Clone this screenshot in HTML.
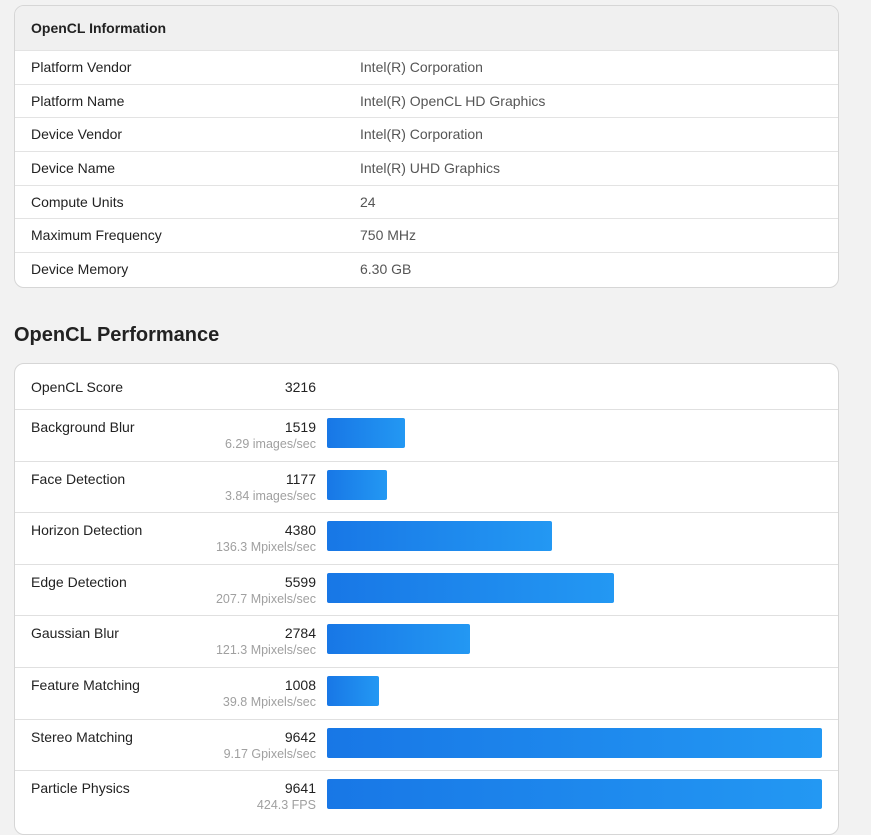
<!DOCTYPE html>
<html><head><meta charset="utf-8"><style>
body{margin:0;background:#f2f2f2;font-family:"Liberation Sans",sans-serif;width:871px;height:820px;overflow:hidden;position:relative;color:#222}
.card{position:absolute;left:14px;width:823px;background:#fff;border:1px solid #d6d6d6;border-radius:10px;overflow:hidden}
.hdr{height:44px;background:#f0f0f0;font-weight:bold;font-size:14px;line-height:44px;padding-left:16px}
.irow{height:33.7px;border-top:1px solid #e3e3e3;box-sizing:border-box;font-size:14px;line-height:32px;position:relative}
.irow .l{position:absolute;left:16px}.irow .v{position:absolute;left:345px;color:#555}
h2{position:absolute;left:14px;top:324px;margin:0;font-size:20px;font-weight:bold;color:#222}
.prow{position:absolute;left:0;width:823px;border-top:1px solid #e0e0e0;box-sizing:border-box}
.nm{position:absolute;left:16px;font-size:14px}
.sc{position:absolute;right:522px;font-size:14px;text-align:right}
.un{position:absolute;right:522px;font-size:12.5px;color:#a0a0a0;white-space:nowrap}
.bar{position:absolute;left:312px;height:30px;border-radius:2px;background:linear-gradient(90deg,#1877e6,#2398f3)}
</style></head><body>
<div class="card" style="top:5px;height:281px">
<div class="hdr">OpenCL Information</div>
<div class="irow"><span class="l">Platform Vendor</span><span class="v">Intel(R) Corporation</span></div>
<div class="irow"><span class="l">Platform Name</span><span class="v">Intel(R) OpenCL HD Graphics</span></div>
<div class="irow"><span class="l">Device Vendor</span><span class="v">Intel(R) Corporation</span></div>
<div class="irow"><span class="l">Device Name</span><span class="v">Intel(R) UHD Graphics</span></div>
<div class="irow"><span class="l">Compute Units</span><span class="v">24</span></div>
<div class="irow"><span class="l">Maximum Frequency</span><span class="v">750 MHz</span></div>
<div class="irow"><span class="l">Device Memory</span><span class="v">6.30 GB</span></div>
</div>
<h2>OpenCL Performance</h2>
<div class="card" id="perf" style="top:363px;height:470px">
<div class="nm" style="top:15px">OpenCL Score</div>
<div class="sc" style="top:15px">3216</div>
</div>
<script>
const names=["Background Blur","Face Detection","Horizon Detection","Edge Detection","Gaussian Blur","Feature Matching","Stereo Matching","Particle Physics"];
const scores=[1519,1177,4380,5599,2784,1008,9642,9641];
const units=["6.29 images/sec","3.84 images/sec","136.3 Mpixels/sec","207.7 Mpixels/sec","121.3 Mpixels/sec","39.8 Mpixels/sec","9.17 Gpixels/sec","424.3 FPS"];
const card=document.getElementById('perf');
const maxW=495, maxV=Math.max(...scores);
const x=v=>v/maxV*maxW;
names.forEach((n,i)=>{
  const r=document.createElement('div');r.className='prow';
  
  
  r.style.top=(45+i*51.6)+'px';r.style.height='51.6px';
  r.innerHTML='<div class="nm" style="top:9px">'+n+'</div><div class="sc" style="top:9px">'+scores[i]+'</div><div class="un" style="top:27px">'+units[i]+'</div>';
  const b=document.createElement('div');b.className='bar';
  
  
  b.style.top='8px';b.style.width=x(scores[i])+'px';
  r.appendChild(b);card.appendChild(r);
});
</script>
</body></html>
